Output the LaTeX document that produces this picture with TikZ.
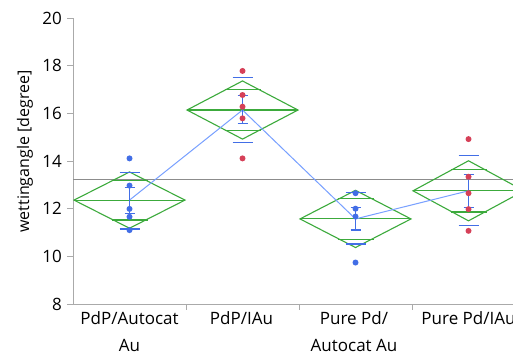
\documentclass[tikz,border=0pt]{standalone}
\usepackage{fontspec}
\setmainfont{Open Sans}
\usetikzlibrary{positioning}

\definecolor{ptblue}{RGB}{66,110,230}
\definecolor{ptred}{RGB}{214,64,88}
\definecolor{diagreen}{RGB}{60,170,60}
\definecolor{meanblue}{RGB}{120,160,255}
\definecolor{axisgray}{RGB}{170,170,170}
\definecolor{gmgray}{RGB}{140,140,140}

\begin{document}
\begin{tikzpicture}[x=1pt, y=23.83pt, font=\fontsize{17}{27}\selectfont,
  meandiamond/.style={diagreen, line width=1.1pt},
  sdline/.style={ptblue, line width=1.2pt},
  errbar/.style={ptblue, line width=1.3pt},
  catlabel/.style={anchor=north, align=center, inner sep=0pt}]
\useasboundingbox (0,5.818) rectangle (513,20.757);
\fill[white] (0,5.818) rectangle (513,20.757);

% axes and ticks
\draw[axisgray, line width=1pt] (73,20) -- (73,8) -- (513,8);
\foreach \v in {8,10,...,20}{
  \draw[axisgray, line width=1pt] (73,\v) -- (67,\v);
  \node[anchor=east, inner sep=0pt] (tick\v) at (62,\v) {\v};
}
\foreach \x in {186,299,412}
  \draw[axisgray, line width=1pt] (\x,8) -- ++(0pt,-6pt);
\node[rotate=90, font=\fontsize{16}{18}\selectfont] (ylab) at (25,14.4) {wettingangle [degree]};

% categories
\node[catlabel] (cat1) at (129.5,7.67) {PdP/Autocat\\Au};
\node[catlabel] (cat2) at (241.5,7.67) {PdP/IAu};
\node[catlabel] (cat3) at (354,7.67) {Pure Pd/\\Autocat Au};
\node[catlabel] (cat4) at (468.5,7.67) {Pure Pd/IAu};

% grand mean
\draw[gmgray, line width=1pt] (73,13.23) -- (513,13.23);

% means diamonds
\foreach \x/\m/\h [count=\i] in {129.5/12.36/1.18, 242.5/16.14/1.22, 355.5/11.57/1.2, 468.5/12.75/1.26}{
  \coordinate (m\i) at (\x,\m);
  \pgfmathsetmacro\o{\h*0.7071}
  \draw[meandiamond] (\x-55.5,\m) -- (\x,\m+\h) -- (\x+55.5,\m) -- (\x,\m-\h) -- cycle;
  \draw[meandiamond] (\x-55.5,\m) -- (\x+55.5,\m);
  \draw[meandiamond] (\x-18,\m+\o) -- (\x+18,\m+\o);
  \draw[meandiamond] (\x-18,\m-\o) -- (\x+18,\m-\o);
}
\draw[meanblue, line width=1pt] (m1) -- (m2) -- (m3) -- (m4);

% std dev lines and error bars
\foreach \x/\sdh/\sdl/\ebh/\ebl in {129.5/13.53/11.15/12.88/11.81, 242.5/17.51/14.79/16.76/15.56,
    355.5/12.68/10.52/12.05/11.1, 468.5/14.23/11.3/13.44/12.06}{
  \draw[sdline] (\x-10,\sdh) -- (\x+10,\sdh);
  \draw[sdline] (\x-10,\sdl) -- (\x+10,\sdl);
  \draw[errbar] (\x,\ebl) -- (\x,\ebh);
  \draw[errbar] (\x-5,\ebh) -- (\x+5,\ebh);
  \draw[errbar] (\x-5,\ebl) -- (\x+5,\ebl);
}

% points
\foreach \x/\c/\vs in {129.5/ptblue/{14.11,12.97,11.99,11.66,11.1}, 242.5/ptred/{17.78,16.77,16.28,15.79,14.11},
    355.5/ptblue/{12.65,12.0,11.67,9.74}, 468.5/ptred/{14.92,13.34,12.65,11.98,11.07}}{
  \foreach \v in \vs
    \fill[\c] (\x,\v) circle[radius=3pt];
}
\end{tikzpicture}
\end{document}
